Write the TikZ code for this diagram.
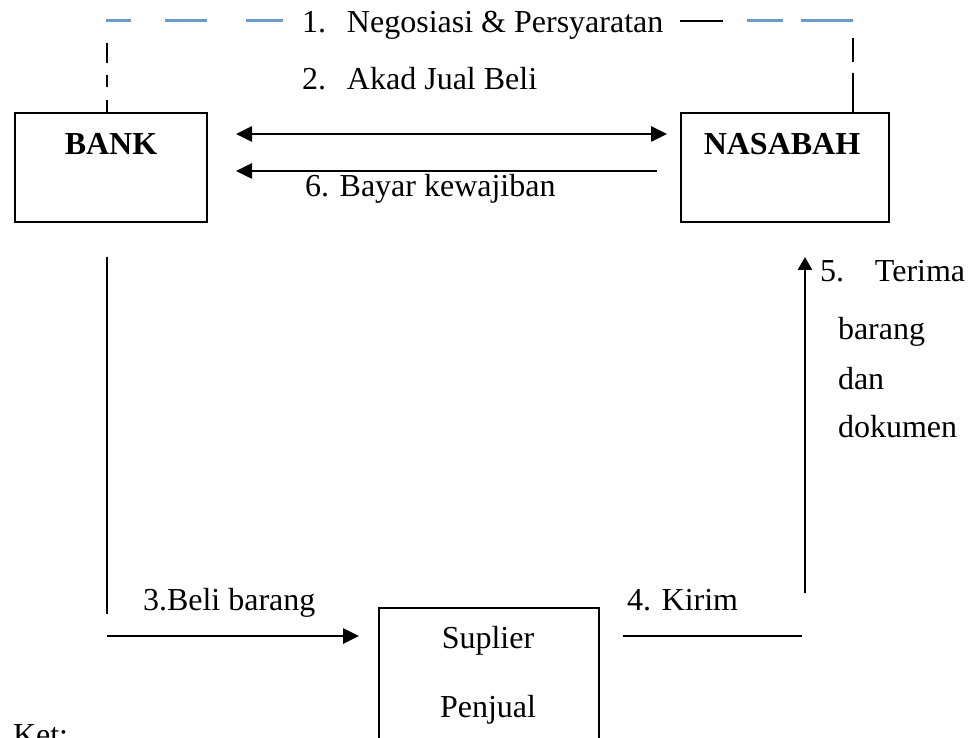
\documentclass[tikz,border=0pt]{standalone}
\usepackage{fontspec}
\setmainfont{Liberation Serif}
\usetikzlibrary{arrows.meta}
\definecolor{dashblue}{RGB}{106,155,203}
\begin{document}
\begin{tikzpicture}[x=1pt,y=-1pt,
  every node/.style={inner sep=0pt,outer sep=0pt,font=\fontsize{32}{38}\selectfont},
  boxstyle/.style={draw,line width=1.8pt,anchor=north west},
  txt/.style={anchor=base west},
  conn/.style={line width=2.6pt},
  arr/.style={conn,-{Triangle[length=16pt,width=15pt]}},
  darr/.style={conn,{Triangle[length=16pt,width=15pt]}-{Triangle[length=16pt,width=15pt]}},
  bluedash/.style={dashblue,line width=3pt},
  blackdash/.style={line width=1.8pt}]
\useasboundingbox (0,0) rectangle (970,738);
\begin{scope}
\clip (0,0) rectangle (970,738);
% boxes
\node[boxstyle,minimum width=192pt,minimum height=109pt] (bank) at (15,113) {};
\node[boxstyle,minimum width=208pt,minimum height=109pt] (nasabah) at (681,113) {};
\node[boxstyle,minimum width=220pt,minimum height=140pt] (supl) at (379,608) {};
\node[anchor=base,font=\fontsize{32}{38}\selectfont\bfseries] (tbank) at (111,155) {BANK};
\node[anchor=base,font=\fontsize{32}{38}\selectfont\bfseries] (tnas) at (782,155) {NASABAH};
\node[anchor=base] (tsup1) at (488,648) {Suplier};
\node[anchor=base] (tsup2) at (488,717) {Penjual};
% top dashed link
\draw[bluedash] (106,21) -- (131,21);
\draw[bluedash] (165,21) -- (207,21);
\draw[bluedash] (246,21) -- (283,21);
\draw[blackdash] (680,21) -- (723,21);
\draw[bluedash] (747,21) -- (783,21);
\draw[bluedash] (801,21) -- (853,21);
\draw[blackdash] (107,43) -- (107,63);
\draw[blackdash] (107,75) -- (107,87);
\draw[blackdash] (107,100) -- (bank.north -| 107,0);
\draw[blackdash] (853,38) -- (853,62);
\draw[blackdash] (853,73) -- (nasabah.north -| 853,0);
\node[txt] (l1) at (302,33) {\makebox[45pt][l]{1.}Negosiasi \& Persyaratan};
\node[txt] (l2) at (302,90) {\makebox[45pt][l]{2.}Akad Jual Beli};
% arrows between bank and nasabah
\coordinate (d1) at (236,134);
\coordinate (d2) at (667,134);
\draw[darr] (d1) -- (d2);
\coordinate (p1) at (657,171);
\coordinate (p2) at (236,171);
\draw[arr] (p1) -- (p2);
\node[txt] (l6) at (305,197) {6. Bayar kewajiban};
% left path to supplier
\coordinate (v1) at (107,257);
\coordinate (v2) at (107,614);
\draw[line width=1.8pt] (v1) -- (v2);
\coordinate (b1) at (107,636);
\coordinate (b2) at (359,636);
\draw[arr] (b1) -- (b2);
\node[txt] (l3) at (143,610) {3.Beli barang};
% right path to nasabah
\coordinate (k1) at (623,636);
\coordinate (k2) at (802,636);
\draw[line width=1.8pt] (k1) -- (k2);
\node[txt] (l4) at (627,610) {4. Kirim};
\coordinate (u1) at (805,593);
\coordinate (u2) at (805,257);
\draw[conn,-{Triangle[length=13pt,width=14pt]}] (u1) -- (u2);
\node[txt] (l5a) at (820,282) {\makebox[55pt][l]{5.}Terima};
\node[txt] (l5b) at (838,340) {barang};
\node[txt] (l5c) at (838,389) {dan};
\node[txt] (l5d) at (838,437) {dokumen};
\node[txt] (ket) at (13,745) {Ket:};
\end{scope}
\end{tikzpicture}
\end{document}
